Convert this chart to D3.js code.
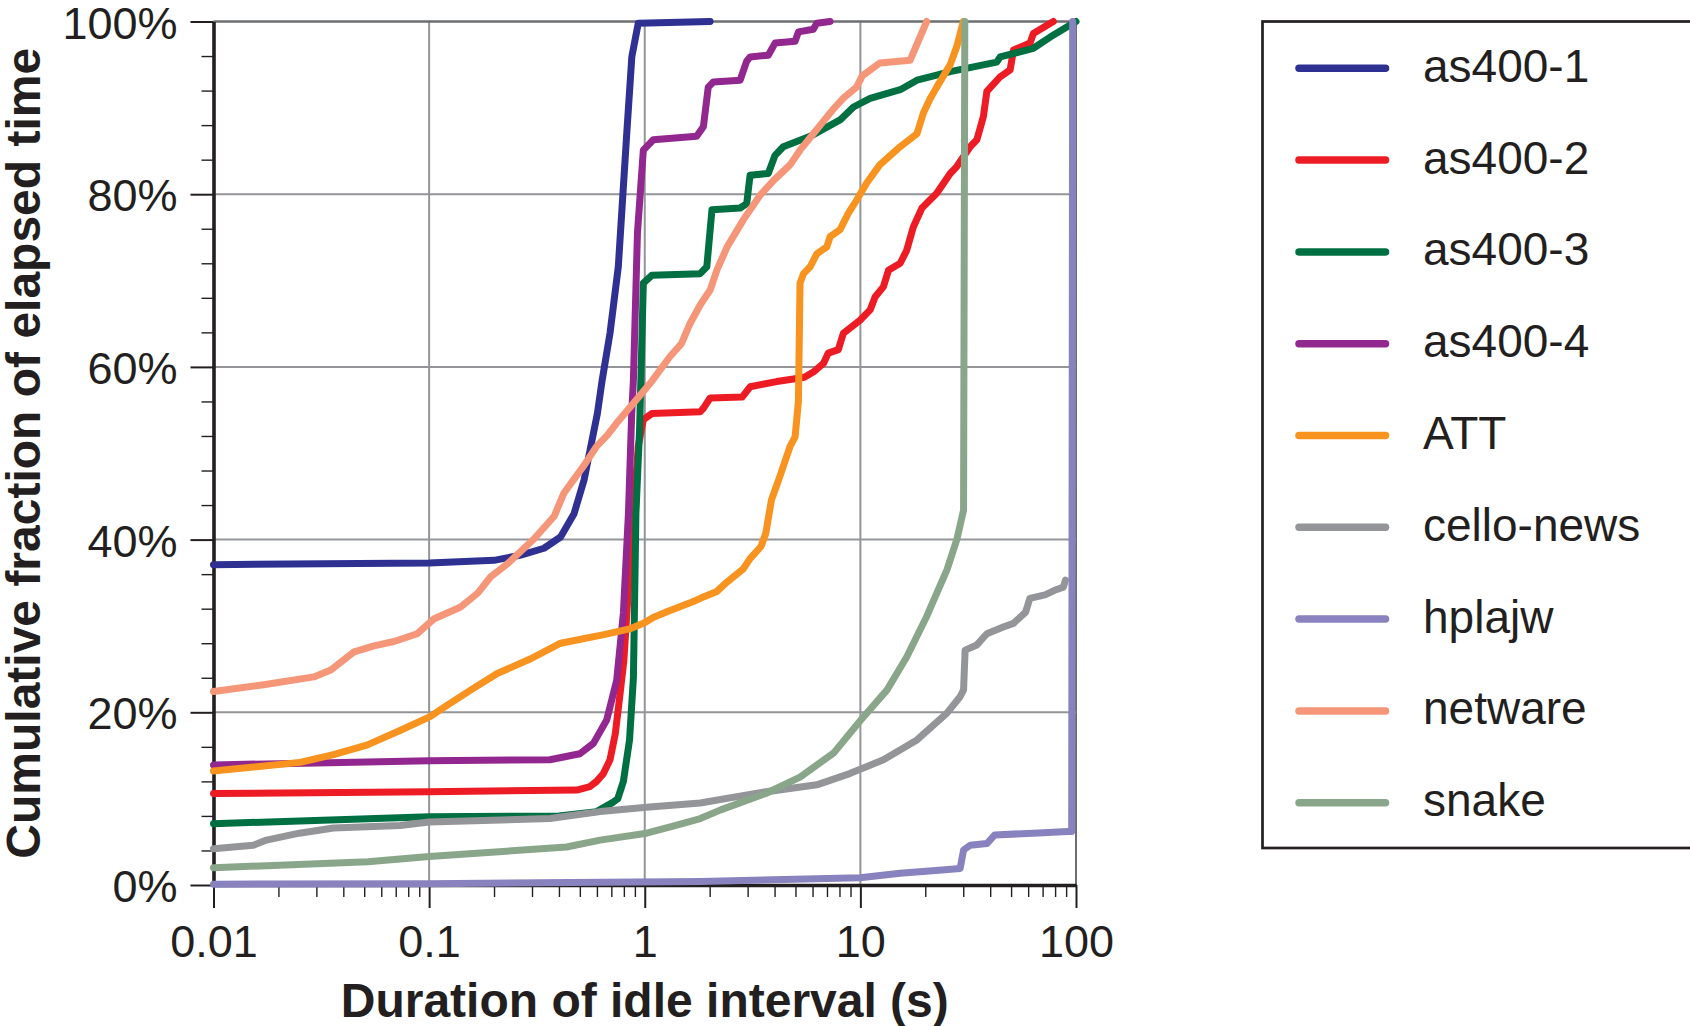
<!DOCTYPE html>
<html>
<head>
<meta charset="utf-8">
<script src="https://cdn.jsdelivr.net/npm/d3@7"></script>
<style>
  html, body { margin: 0; padding: 0; background: #fff; }
  svg { display: block; }
  text { font-family: "Liberation Sans", Arial, Helvetica, sans-serif; fill: #231f20; }
</style>
</head>
<body>
<svg id="chart" width="1690" height="1026"></svg>
<script>
// ---------- data (x = idle interval in seconds, y = cumulative % of elapsed time) ----------
const seriesNames = ["as400-1", "as400-2", "as400-3", "as400-4", "ATT", "cello-news", "hplajw", "netware", "snake"];

const as400_1 = [[0.01,37.1],[0.1,37.3],[0.2,37.6],[0.266,38.2],[0.341,39.0],[0.407,40.3],[0.47,43.0],[0.523,46.9],[0.562,50.8],[0.603,54.6],[0.635,58.5],[0.69,63.9],[0.754,71.6],[0.825,87.0],[0.871,95.9],[0.933,99.8],[2.01,100]];

const as400_2 = [[0.01,10.6],[0.1,10.8],[0.484,11.0],[0.557,11.4],[0.598,12.0],[0.643,12.9],[0.69,14.5],[0.73,17.5],[0.767,22.0],[0.80,26.0],[0.826,31.5],[0.886,43.0],[0.933,50.8],[0.985,53.9],[1.078,54.6],[1.81,54.8],[1.87,55.2],[2.01,56.4],[2.83,56.5],[3.08,57.7],[4.09,58.3],[4.9,58.6],[5.5,58.8],[6.05,59.4],[6.74,60.4],[7.1,61.6],[7.9,62.0],[8.34,63.9],[9.96,65.4],[11.1,66.6],[11.7,68.1],[12.8,69.3],[13.5,71.2],[15.3,72.0],[16.4,73.5],[17.6,76.2],[19.3,78.4],[22.6,80.1],[26.1,82.4],[28.0,83.2],[32.3,85.5],[34.7,86.3],[37.2,89.0],[38.6,91.9],[44.5,93.6],[49.5,94.4],[51.3,96.7],[61.2,97.5],[63.4,98.6],[78.5,100]];

const as400_3 = [[0.01,7.1],[0.1,7.9],[0.4,8.0],[0.598,8.5],[0.715,9.6],[0.75,10.0],[0.796,12.0],[0.85,16.8],[0.886,24.0],[0.91,43.0],[0.946,52.7],[0.963,60.0],[0.985,69.7],[1.078,70.6],[1.806,70.8],[1.94,71.6],[2.05,78.2],[2.77,78.4],[2.97,78.9],[3.08,82.2],[3.74,82.4],[4.02,84.5],[4.39,85.5],[5.85,86.7],[8.05,88.6],[9.29,90.1],[11.1,91.1],[15.3,92.1],[18.3,93.2],[22.6,93.8],[26.1,94.2],[42.9,95.3],[44.5,95.9],[63.4,96.9],[75.9,98.2],[100,100]];

const as400_4 = [[0.01,13.9],[0.1,14.4],[0.363,14.5],[0.5,15.2],[0.578,16.4],[0.666,19.1],[0.741,23.7],[0.796,31.5],[0.84,43.0],[0.87,54.6],[0.886,58.5],[0.925,75.5],[0.985,85.1],[1.096,86.3],[1.74,86.7],[1.87,87.8],[1.97,92.4],[2.08,93.0],[2.77,93.2],[2.97,95.4],[3.08,95.9],[3.74,96.1],[4.02,97.5],[4.98,97.7],[5.16,98.8],[6.05,99.1],[6.28,99.8],[7.23,100]];

const att = [[0.01,13.2],[0.0252,14.2],[0.036,15.1],[0.0514,16.2],[0.0733,17.9],[0.101,19.5],[0.121,20.8],[0.161,22.8],[0.207,24.5],[0.296,26.2],[0.407,28.0],[0.647,29.0],[0.861,29.7],[0.985,30.3],[1.10,31.0],[1.31,31.8],[1.67,32.8],[1.81,33.2],[2.16,34.0],[2.41,35.1],[2.86,36.6],[3.08,37.8],[3.46,39.2],[3.64,40.7],[3.87,44.6],[4.23,47.3],[4.72,50.8],[4.98,51.9],[5.16,56.0],[5.25,69.7],[5.45,70.8],[5.85,71.6],[6.28,73.1],[6.99,73.9],[7.24,75.1],[8.05,75.9],[8.8,77.8],[9.6,79.3],[10.7,81.3],[12.3,83.4],[15.3,85.5],[18.3,87.0],[19.6,89.4],[21.0,91.0],[22.6,92.4],[26.1,95.0],[28.0,97.1],[29.6,99.4],[30.0,100]];

const cello_news = [[0.01,4.2],[0.0153,4.6],[0.0176,5.2],[0.025,6.0],[0.036,6.6],[0.0733,6.9],[0.1,7.3],[0.363,7.7],[0.621,8.5],[1.02,9.0],[1.81,9.5],[3.43,10.7],[6.28,11.6],[8.92,12.9],[12.8,14.5],[18.3,16.8],[25.2,19.9],[29.0,21.8],[30.1,22.6],[30.6,27.2],[34.7,27.8],[38.6,29.1],[46.3,29.9],[51.3,30.3],[58.4,31.6],[61.1,33.2],[71.8,33.6],[80.9,34.2],[87.4,34.5],[89.3,35.3]];

const hplajw = [[0.01,0.1],[0.1,0.15],[1.81,0.4],[9.96,0.85],[15.3,1.35],[21.6,1.66],[29.0,1.9],[30.1,4.05],[32.3,4.6],[38.6,4.8],[42.0,5.8],[63.4,6.0],[91.5,6.2],[95.5,6.2],[96.5,100]];

const netware = [[0.01,22.4],[0.0171,23.2],[0.0292,24.1],[0.035,24.9],[0.0449,27.0],[0.0555,27.7],[0.0687,28.2],[0.0881,29.1],[0.105,30.8],[0.140,32.2],[0.168,33.8],[0.193,35.7],[0.231,37.2],[0.307,40.1],[0.38,42.7],[0.422,45.4],[0.523,48.6],[0.598,50.8],[0.671,52.1],[0.741,53.5],[0.886,55.8],[1.06,58.1],[1.31,61.2],[1.48,62.7],[1.62,65.0],[1.81,67.2],[2.01,68.9],[2.16,71.2],[2.41,73.9],[2.86,77.0],[3.43,79.9],[3.96,81.6],[4.72,83.4],[5.25,85.1],[6.05,87.0],[6.62,88.2],[7.4,89.7],[8.4,91.2],[9.6,92.4],[10.2,93.7],[12.3,95.2],[17.0,95.5],[20.3,100]];

const snake = [[0.01,2.0],[0.052,2.7],[0.1,3.3],[0.434,4.4],[0.621,5.2],[1.02,6.0],[1.34,6.8],[1.81,7.7],[2.25,8.7],[3.64,10.6],[5.25,12.5],[7.53,15.3],[9.96,19.0],[13.3,22.6],[16.4,26.4],[20.3,31.1],[25.2,36.5],[28.0,40.0],[30.1,43.4],[30.5,100]];

const seriesValues = [as400_1, as400_2, as400_3, as400_4, att, cello_news, hplajw, netware, snake];
const seriesColors = ["#2e3192", "#ed1c24", "#007043", "#92278f", "#f7931e", "#939598", "#8882be", "#f69679", "#8aa68a"];

const xTickValues = [0.01, 0.1, 1, 10, 100];
const xTickLabels = ["0.01", "0.1", "1", "10", "100"];
const yTickValues = [0, 20, 40, 60, 80, 100];
const yTickLabels = ["0%", "20%", "40%", "60%", "80%", "100%"];
const xTitle = "Duration of idle interval (s)";
const yTitle = "Cumulative fraction of elapsed time";

// ---------- layout ----------
const svg = d3.select("#chart");
const L = 213.5, R = 1076, T = 21.5, B = 885;
const x = d3.scaleLog().domain([0.01, 100]).range([L, R]);
const y = d3.scaleLinear().domain([0, 100]).range([B, T]);
const ink = "#231f20";

svg.append("rect").attr("width", 1690).attr("height", 1026).attr("fill", "#fff");

// gridlines
const grid = svg.append("g");
grid.selectAll(".gx").data(xTickValues.slice(1)).enter().append("line")
  .attr("x1", d => x(d)).attr("x2", d => x(d)).attr("y1", T).attr("y2", B)
  .attr("stroke", d => d === 100 ? "#6d6e71" : "#939598").attr("stroke-width", 2);
grid.selectAll(".gy").data(yTickValues.slice(1)).enter().append("line")
  .attr("x1", L).attr("x2", R).attr("y1", d => y(d)).attr("y2", d => y(d))
  .attr("stroke", d => d === 100 ? "#6d6e71" : "#939598").attr("stroke-width", d => d === 100 ? 2.5 : 2);

// minor ticks
const yMinor = d3.range(0, 101, 4).filter(v => v % 20 !== 0);
svg.append("g").attr("transform", `translate(${L},0)`)
  .call(d3.axisLeft(y).tickValues(yMinor).tickSize(12).tickFormat(""))
  .call(g => g.select(".domain").remove())
  .call(g => g.selectAll("line").attr("stroke", ink).attr("stroke-width", 1.4));

const xMinor = x.ticks().filter(v => !xTickValues.some(t => Math.abs(t - v) / t < 1e-9));
svg.append("g").attr("transform", `translate(0,${B})`)
  .call(d3.axisBottom(x).tickValues(xMinor).tickSize(12).tickFormat(""))
  .call(g => g.select(".domain").remove())
  .call(g => g.selectAll("line").attr("stroke", ink).attr("stroke-width", 1.4));

// major axes
svg.append("g").attr("transform", `translate(${L},0)`)
  .call(d3.axisLeft(y).tickValues(yTickValues).tickSize(23).tickSizeOuter(0).tickPadding(13)
    .tickFormat((d, i) => yTickLabels[i]))
  .call(g => g.select(".domain").attr("stroke", ink).attr("stroke-width", 3.6))
  .call(g => g.selectAll(".tick line").attr("stroke", ink).attr("stroke-width", 2))
  .call(g => g.selectAll("text").attr("font-size", 45).attr("fill", ink)
    .style("font-family", "'Liberation Sans', Arial, sans-serif").attr("dy", "0.37em"));

svg.append("g").attr("transform", `translate(0,${B})`)
  .call(d3.axisBottom(x).tickValues(xTickValues).tickSize(23).tickSizeOuter(0).tickPadding(17)
    .tickFormat((d, i) => xTickLabels[i]))
  .call(g => g.select(".domain").attr("stroke", ink).attr("stroke-width", 3.6))
  .call(g => g.selectAll(".tick line").attr("stroke", ink).attr("stroke-width", 2))
  .call(g => g.selectAll("text").attr("font-size", 45).attr("fill", ink)
    .style("font-family", "'Liberation Sans', Arial, sans-serif"));

// titles
svg.append("text").attr("x", (L + R) / 2).attr("y", 1017).attr("text-anchor", "middle")
  .attr("font-size", 48).attr("font-weight", "bold").text(xTitle);
svg.append("text").attr("transform", `translate(40,${(T + B) / 2}) rotate(-90)`).attr("text-anchor", "middle")
  .attr("font-size", 48).attr("font-weight", "bold").text(yTitle);

// curves
const line = d3.line().x(d => x(d[0])).y(d => y(d[1])).curve(d3.curveLinear);
svg.append("g").selectAll("path").data(seriesValues).enter().append("path")
  .attr("d", line).attr("fill", "none")
  .attr("stroke", (d, i) => seriesColors[i]).attr("stroke-width", 7)
  .attr("stroke-linecap", "round").attr("stroke-linejoin", "round");

// legend
const lg = svg.append("g");
lg.append("rect").attr("x", 1262.5).attr("y", 21.5).attr("width", 1426).attr("height", 826.5)
  .attr("fill", "none").attr("stroke", ink).attr("stroke-width", 2.7);
const legendY = d3.scalePoint().domain(seriesNames).range([68.3, 802.7]);
const items = lg.selectAll(".item").data(seriesNames).enter().append("g")
  .attr("transform", d => `translate(0,${legendY(d)})`);
items.append("line").attr("x1", 1299).attr("x2", 1385.5).attr("y1", 0).attr("y2", 0)
  .attr("stroke", (d, i) => seriesColors[i]).attr("stroke-width", 7.5).attr("stroke-linecap", "round");
items.append("text").attr("x", 1423).attr("y", 13.5).attr("font-size", 46).text(d => d);
</script>
</body>
</html>
